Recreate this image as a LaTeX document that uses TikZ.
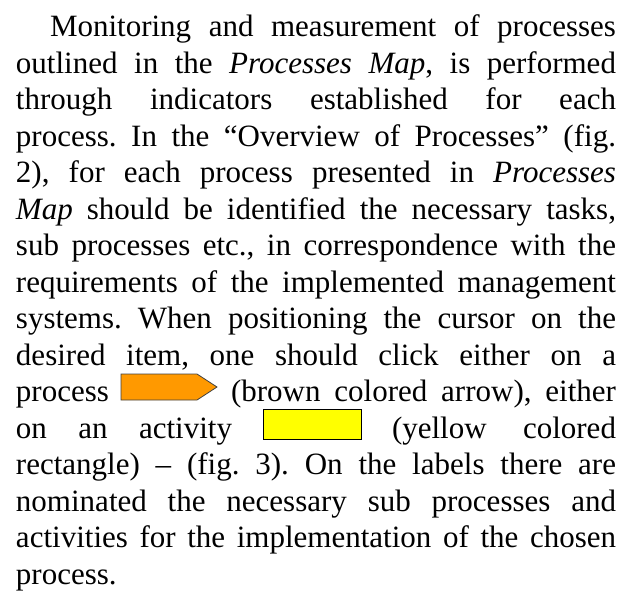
\documentclass[tikz,border=0pt]{standalone}
\usepackage{fontspec}
\setmainfont{Liberation Serif}
\usepackage{xcolor}
\usetikzlibrary{positioning}
\definecolor{procorange}{HTML}{FF9900}
\definecolor{actyellow}{HTML}{FFFF00}
\definecolor{edgegray}{HTML}{404040}
\newcommand{\fullline}[1]{\makebox[600pt][s]{#1}}
\frenchspacing

\begin{document}
\begin{tikzpicture}[
				x=1pt,y=1pt,
				every node/.style={font=\fontsize{31}{36}\selectfont,inner sep=0pt,outer sep=0pt},
				txt/.style={anchor=base west},
				txtr/.style={anchor=base east},
				procarrow/.style={draw=edgegray,line width=0.8pt,fill=procorange},
				actbox/.style={draw=black,line width=1pt,fill=actyellow}]

				\useasboundingbox (0,0) rectangle (634,-592);

				\node[txt] (l1) at (50,-36.5) {\makebox[566pt][s]{Monitoring and measurement of processes}};
				\node[txt] (l2) at (16,-73) {\fullline{outlined in the \textit{Processes Map}, is performed}};
				\node[txt] (l3) at (16,-109.5) {\fullline{through indicators established for each}};
				\node[txt] (l4) at (16,-146) {\fullline{process. In the “Overview of Processes” (fig.}};
				\node[txt] (l5) at (16,-182.5) {\fullline{2), for each process presented in \textit{Processes}}};
				\node[txt] (l6) at (16,-219) {\fullline{\textit{Map} should be identified the necessary tasks,}};
				\node[txt] (l7) at (16,-255.5) {\fullline{sub processes etc., in correspondence with the}};
				\node[txt] (l8) at (16,-292) {\fullline{requirements of the implemented management}};
				\node[txt] (l9) at (16,-328.5) {\fullline{systems. When positioning the cursor on the}};
				\node[txt] (l10) at (16,-365) {\fullline{desired item, one should click either on a}};

				% line with the process arrow
				\node[txt] (l11a) at (16,-401.5) {process};
				\node[txtr] (l11b) at (616,-401.5) {\makebox[385pt][s]{(brown colored arrow), either}};
				\draw[procarrow] (121,-374) -- (197,-374) -- (217,-387) -- (197,-400) -- (121,-400) -- cycle;

				% line with the activity box
				\node[txt] (l12a) at (16,-438) {\makebox[216pt][s]{on an activity}};
				\node[txtr] (l12b) at (616,-438) {\makebox[224pt][s]{(yellow colored}};
				\draw[actbox] (263,-409) rectangle (361,-439);

				\node[txt] (l13) at (16,-474.5) {\fullline{rectangle) – (fig. 3). On the labels there are}};
				\node[txt] (l14) at (16,-511) {\fullline{nominated the necessary sub processes and}};
				\node[txt] (l15) at (16,-547.5) {\fullline{activities for the implementation of the chosen}};
				\node[txt] (l16) at (16,-584) {process.};
			\end{tikzpicture}
\end{document}
